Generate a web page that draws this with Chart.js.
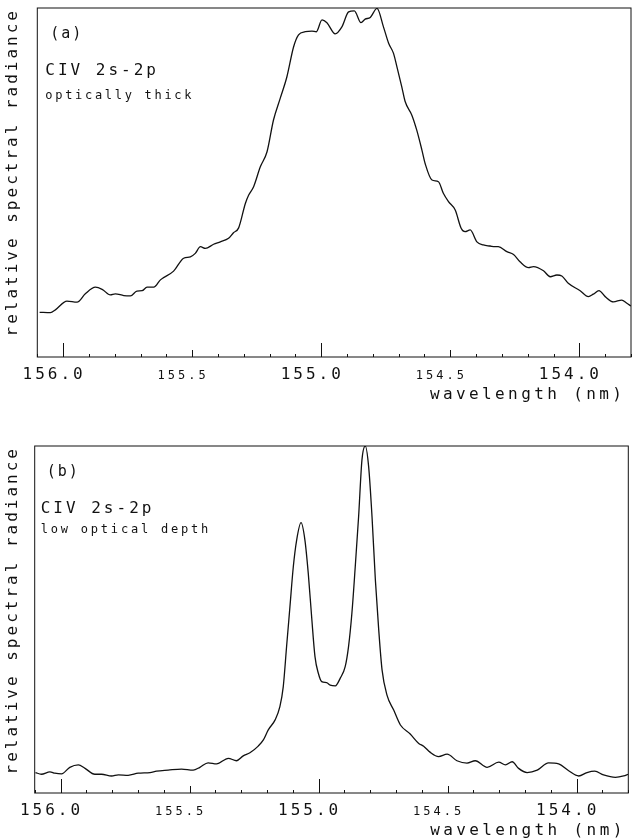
<!DOCTYPE html>
<html>
<head>
<meta charset="utf-8">
<script src="https://cdn.jsdelivr.net/npm/chart.js@4.4.1/dist/chart.umd.min.js"></script>
<style>
  html, body { margin: 0; padding: 0; background: #fff; overflow: hidden; width: 632px; height: 840px; }
  canvas { position: absolute; left: 0; }
  #chartA { top: 0; }
  #chartB { top: 404px; }
</style>
</head>
<body>
<canvas id="chartA" width="632" height="410"></canvas>
<canvas id="chartB" width="632" height="442"></canvas>
<script>
// wavelength axis (nm), shared by both panels
const xTickValues = [156.0, 155.5, 155.0, 154.5, 154.0];
const xTickLabels = ["156.0", "155.5", "155.0", "154.5", "154.0"];
const xTitle = "wavelength (nm)";
const yTitle = "relative spectral radiance";

// panel (a): optically thick
const waveA = [
  156.091, 156.049, 156.030, 155.985, 155.946, 155.914, 155.875, 155.849, 155.817, 155.798,
  155.765, 155.739, 155.714, 155.694, 155.675, 155.649, 155.623, 155.572, 155.533, 155.507,
  155.488, 155.468, 155.449, 155.417, 155.391, 155.359, 155.340, 155.320, 155.294, 155.281,
  155.262, 155.236, 155.210, 155.185, 155.159, 155.133, 155.107, 155.088, 155.062, 155.036,
  155.019, 154.997, 154.978, 154.946, 154.920, 154.894, 154.872, 154.846, 154.830, 154.810,
  154.784, 154.759, 154.739, 154.720, 154.707, 154.688, 154.675, 154.649, 154.630, 154.610,
  154.597, 154.571, 154.546, 154.527, 154.507, 154.481, 154.458, 154.443, 154.423, 154.397,
  154.372, 154.346, 154.326, 154.314, 154.281, 154.255, 154.230, 154.197, 154.178, 154.139,
  154.113, 154.087, 154.068, 154.043, 153.997, 153.965, 153.946, 153.924, 153.900, 153.868,
  153.836, 153.816, 153.800
];
const radA = [
  12.8, 12.7, 13.5, 16.0, 15.7, 18.1, 20.0, 19.4, 17.8, 18.1,
  17.6, 17.5, 18.9, 19.0, 20.0, 20.0, 22.1, 24.6, 28.3, 28.7,
  29.7, 31.6, 31.1, 32.3, 33.0, 34.0, 35.6, 37.0, 44.0, 46.4,
  48.8, 54.5, 58.8, 67.9, 74.1, 80.3, 88.9, 92.3, 93.2, 93.4,
  93.2, 96.6, 95.8, 92.6, 94.6, 98.9, 99.2, 95.8, 96.8, 97.3,
  99.9, 94.6, 89.9, 87.0, 83.2, 77.4, 73.2, 69.3, 65.0, 59.3,
  55.3, 50.7, 50.2, 46.9, 44.5, 42.1, 36.9, 35.9, 36.4, 33.0,
  32.1, 31.8, 31.6, 31.6, 30.2, 29.4, 27.3, 25.6, 25.9, 24.7,
  23.0, 23.5, 23.2, 21.1, 19.0, 17.3, 18.0, 19.0, 17.3, 15.8,
  16.3, 15.4, 14.6
];

// panel (b): low optical depth
const waveB = [
  156.097, 156.074, 156.041, 156.022, 155.996, 155.964, 155.931, 155.905, 155.867, 155.841,
  155.802, 155.776, 155.738, 155.699, 155.653, 155.628, 155.583, 155.531, 155.486, 155.460,
  155.428, 155.395, 155.350, 155.318, 155.292, 155.266, 155.234, 155.214, 155.195, 155.169,
  155.150, 155.137, 155.124, 155.111, 155.098, 155.085, 155.068, 155.053, 155.040, 155.027,
  155.014, 155.001, 154.988, 154.969, 154.955, 154.935, 154.916, 154.897, 154.884, 154.871,
  154.858, 154.845, 154.832, 154.819, 154.806, 154.793, 154.780, 154.767, 154.754, 154.735,
  154.709, 154.683, 154.645, 154.612, 154.593, 154.567, 154.535, 154.502, 154.464, 154.425,
  154.393, 154.347, 154.302, 154.276, 154.250, 154.225, 154.192, 154.153, 154.109, 154.070,
  154.031, 153.992, 153.960, 153.930, 153.896, 153.850, 153.818, 153.800
];
const radB = [
  5.9, 5.4, 6.1, 5.7, 5.5, 7.4, 8.1, 7.1, 5.4, 5.4,
  4.9, 5.2, 5.1, 5.7, 5.9, 6.3, 6.6, 6.9, 6.6, 7.4,
  8.7, 8.4, 10.0, 9.3, 10.7, 11.6, 13.5, 15.3, 18.2, 21.0,
  24.9, 30.6, 42.2, 53.7, 65.2, 72.9, 77.9, 72.9, 63.3, 50.8,
  39.3, 34.5, 32.1, 31.8, 31.1, 30.9, 33.1, 36.4, 42.2, 51.8,
  65.2, 79.6, 96.0, 100.0, 94.0, 79.6, 61.4, 47.0, 35.4, 28.2,
  23.9, 19.6, 17.0, 14.3, 13.5, 11.7, 10.5, 11.2, 9.3, 8.6,
  9.3, 7.4, 8.9, 8.1, 9.0, 7.1, 5.9, 6.6, 8.7, 8.4,
  6.4, 4.9, 5.9, 6.3, 5.2, 4.5, 4.9, 5.4
];

const labelsA = ["(a)", "CIV 2s-2p", "optically thick"];
const labelsB = ["(b)", "CIV 2s-2p", "low optical depth"];

const FONT = "'DejaVu Sans Mono', monospace";
const INK = "#111";

// plotter style lettering: wide spacing on every canvas text
const spacingPlugin = {
  id: "spacing",
  beforeLayout(chart) { chart.ctx.letterSpacing = "3px"; },
  beforeDraw(chart) { chart.ctx.letterSpacing = "3px"; },
};

// box round the plot and inward ticks on the wavelength axis
const framePlugin = {
  id: "frame",
  beforeDatasetsDraw(chart) {
    const { ctx, chartArea: a, scales } = chart;
    ctx.save();
    ctx.strokeStyle = INK;
    ctx.lineWidth = 1;
    ctx.strokeRect(a.left, a.top, a.right - a.left, a.bottom - a.top);
    for (let i = 0; i <= 23; i++) {
      const v = Math.round((153.8 + i * 0.1) * 10) / 10;
      const px = Math.round(scales.x.getPixelForValue(v)) + 0.5;
      const tenth = Math.round(v * 10) % 10;
      const len = tenth === 0 ? 14 : tenth === 5 ? 7 : 3;
      ctx.beginPath();
      ctx.moveTo(px, a.bottom);
      ctx.lineTo(px, a.bottom - len);
      ctx.stroke();
    }
    ctx.restore();
  },
};

// panel captions in the upper left corner, axis name under the right end
const captionPlugin = {
  id: "caption",
  afterDraw(chart, args, opts) {
    const { ctx, chartArea: a } = chart;
    ctx.save();
    ctx.fillStyle = INK;
    ctx.textBaseline = "alphabetic";
    ctx.textAlign = "left";
    opts.lines.forEach((t, i) => {
      const s = opts.style[i];
      ctx.font = s.size + "px " + FONT;
      ctx.letterSpacing = s.gap + "px";
      ctx.fillText(t, a.left + s.dx, a.top + s.dy);
    });
    ctx.font = "16px " + FONT;
    ctx.letterSpacing = "3.4px";
    ctx.textAlign = "right";
    ctx.fillText(xTitle, a.right - opts.titleRight + 3.4, a.bottom + 42);
    ctx.restore();
  },
};

function renderPanel(canvasId, wave, rad, lines, style, axisWidth, pad, titleRight) {
  const ctx = document.getElementById(canvasId).getContext("2d");
  return new Chart(ctx, {
    type: "line",
    data: {
      datasets: [{
        data: wave.map((w, i) => ({ x: w, y: rad[i] })),
        borderColor: INK,
        borderWidth: 1.3,
        pointRadius: 0,
        cubicInterpolationMode: "monotone",
        fill: false,
      }],
    },
    plugins: [spacingPlugin, framePlugin, captionPlugin],
    options: {
      responsive: false,
      animation: false,
      layout: { padding: pad },
      plugins: {
        legend: { display: false },
        tooltip: { enabled: false },
        caption: { lines: lines, style: style, titleRight: titleRight },
      },
      scales: {
        x: {
          type: "linear",
          reverse: true,
          min: 153.8,
          max: 156.1,
          afterBuildTicks: (scale) => { scale.ticks = xTickValues.map((v) => ({ value: v })); },
          afterFit: (scale) => { scale.height = 53; },
          grid: { display: false, drawTicks: false },
          border: { display: false },
          ticks: {
            autoSkip: false,
            maxRotation: 0,
            padding: 8,
            labelOffset: -9,
            color: INK,
            callback: (v, i) => xTickLabels[i],
            font: (c) => xTickLabels[c.index] && xTickLabels[c.index].endsWith(".0")
              ? { family: FONT, size: 16, lineHeight: 1.2 }
              : { family: FONT, size: 12, lineHeight: "22px" },
          },
        },
        y: {
          min: 0,
          max: 100,
          afterFit: (scale) => { scale.width = axisWidth; },
          grid: { display: false, drawTicks: false },
          border: { display: false },
          ticks: { display: false },
          title: {
            display: true,
            text: yTitle,
            align: "end",
            color: INK,
            font: { family: FONT, size: 16, lineHeight: 1.2 },
            padding: { top: 3, bottom: 0 },
          },
        },
      },
    },
  });
}

renderPanel("chartA", waveA, radA, labelsA, [
  { size: 15, gap: 2, dx: 13, dy: 30 },
  { size: 16, gap: 3, dx: 8, dy: 67 },
  { size: 12, gap: 2.7, dx: 8, dy: 91 },
], 37.3, { left: 0, right: 1, top: 8, bottom: 0 }, 9);

renderPanel("chartB", waveB, radB, labelsB, [
  { size: 15, gap: 2, dx: 12, dy: 30 },
  { size: 16, gap: 3, dx: 6, dy: 67 },
  { size: 12, gap: 2.8, dx: 6, dy: 86.5 },
], 34.7, { left: 0, right: 3.7, top: 42, bottom: 0 }, 6);
</script>
</body>
</html>
